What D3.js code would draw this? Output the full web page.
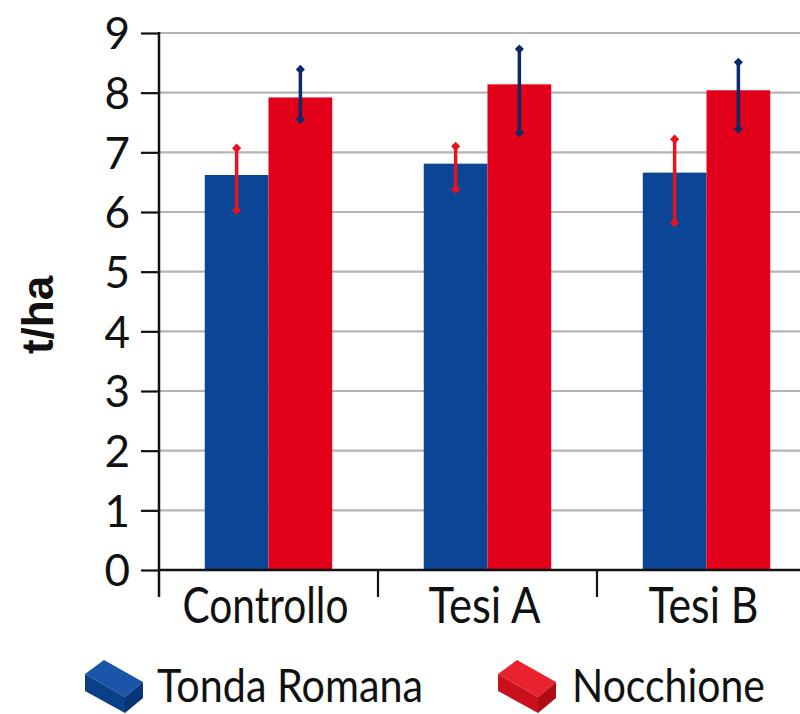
<!DOCTYPE html>
<html>
<head>
<meta charset="utf-8">
<script src="https://cdn.jsdelivr.net/npm/d3@7/dist/d3.min.js"></script>
<style>
  html, body { margin: 0; padding: 0; background: #fff; }
  svg { display: block; }
</style>
</head>
<body>
<svg id="chart" width="800" height="714"></svg>
<script>
// ---- data ----
const categories = ["Controllo", "Tesi A", "Tesi B"];
const seriesNames = ["Tonda Romana", "Nocchione"];
const tondaRomana = [6.62, 6.81, 6.66];
const nocchione = [7.92, 8.14, 8.04];
const tondaErrHigh = [7.07, 7.10, 7.22];
const tondaErrLow = [6.03, 6.38, 5.82];
const nocchioneErrHigh = [8.39, 8.73, 8.51];
const nocchioneErrLow = [7.55, 7.33, 7.39];
const yTicks = [0, 1, 2, 3, 4, 5, 6, 7, 8, 9];
const yTitle = "t/ha";

// ---- styles ----
const barColors = ["#0b4596", "#e2001a"];
const errColors = ["#e8131d", "#0d2a66"];
const labelFont = "Lato, 'Open Sans', sans-serif";
const catLabelWidths = [166, 112, 110];
const legendWidths = [266, 193];

const svg = d3.select("#chart");

const x0 = 159, yBase = 570, yTop = 33;
const band = 219;
const x = d3.scaleBand().domain(categories).range([x0, x0 + band * categories.length]).padding(0);
const xs = d3.scaleBand().domain(seriesNames).range([x.bandwidth() * 0.209, x.bandwidth() * 0.791]).padding(0);
const y = d3.scaleLinear().domain([0, 9]).range([yBase, yTop]);

// gridlines
svg.append("g").selectAll("line").data(yTicks.filter(d => d > 0)).join("line")
  .attr("x1", x0).attr("x2", 800)
  .attr("y1", d => y(d)).attr("y2", d => y(d))
  .attr("stroke", "#b4b4b4").attr("stroke-width", 2.2);

// table
const rows = categories.map((c, i) => ({
  cat: c,
  vals: [
    { s: seriesNames[0], v: tondaRomana[i], lo: tondaErrLow[i], hi: tondaErrHigh[i], k: 0 },
    { s: seriesNames[1], v: nocchione[i], lo: nocchioneErrLow[i], hi: nocchioneErrHigh[i], k: 1 }
  ]
}));

const groups = svg.append("g").selectAll("g").data(rows).join("g")
  .attr("transform", d => `translate(${x(d.cat)},0)`);

groups.selectAll("rect").data(d => d.vals).join("rect")
  .attr("x", d => xs(d.s))
  .attr("width", xs.bandwidth())
  .attr("y", d => y(d.v))
  .attr("height", d => y(0) - y(d.v))
  .attr("fill", d => barColors[d.k]);

// error bars
const eb = groups.selectAll("g.err").data(d => d.vals).join("g").attr("class", "err");
eb.append("line")
  .attr("x1", d => xs(d.s) + xs.bandwidth() / 2)
  .attr("x2", d => xs(d.s) + xs.bandwidth() / 2)
  .attr("y1", d => y(d.lo)).attr("y2", d => y(d.hi))
  .attr("stroke", d => errColors[d.k]).attr("stroke-width", 3.5);
const diamond = d3.symbol().type(d3.symbolSquare).size(42);
eb.selectAll("path").data(d => [{ d, v: d.lo }, { d, v: d.hi }]).join("path")
  .attr("d", diamond)
  .attr("transform", e => `translate(${xs(e.d.s) + xs.bandwidth() / 2},${y(e.v)}) rotate(45)`)
  .attr("fill", e => errColors[e.d.k]);

// y axis
const yAxis = d3.axisLeft(y).tickValues(yTicks).tickSize(18).tickPadding(11).tickFormat(d3.format("d"));
const gy = svg.append("g").attr("transform", `translate(${x0},0)`).call(yAxis);
gy.select(".domain").remove();
gy.selectAll(".tick line").attr("stroke", "#111").attr("stroke-width", 2.2);
gy.selectAll(".tick text").attr("font-family", labelFont).attr("font-size", 44)
  .attr("fill", "#111").attr("dy", "0.36em");
svg.append("line").attr("x1", x0).attr("x2", x0).attr("y1", yTop - 1).attr("y2", 597)
  .attr("stroke", "#111").attr("stroke-width", 2.5);

// x axis
svg.append("line").attr("x1", x0).attr("x2", 800).attr("y1", yBase).attr("y2", yBase)
  .attr("stroke", "#111").attr("stroke-width", 2.5);
svg.append("g").selectAll("line").data(categories.slice(1)).join("line")
  .attr("x1", d => x(d)).attr("x2", d => x(d))
  .attr("y1", yBase).attr("y2", 597)
  .attr("stroke", "#111").attr("stroke-width", 2.2);
svg.append("g").selectAll("text").data(categories).join("text")
  .attr("x", d => x(d) + x.bandwidth() / 2 - 3)
  .attr("y", 623)
  .attr("text-anchor", "middle")
  .attr("font-family", labelFont).attr("font-size", 50).attr("fill", "#111")
  .attr("textLength", (d, i) => catLabelWidths[i])
  .attr("lengthAdjust", "spacingAndGlyphs")
  .text(d => d);

// y title
svg.append("text")
  .attr("transform", "translate(53,315) rotate(-90)")
  .attr("text-anchor", "middle")
  .attr("font-family", "'Liberation Sans', Arial, sans-serif")
  .attr("font-weight", "bold").attr("font-size", 44).attr("fill", "#111")
  .text(yTitle);

// legend
const legendX = [85, 498];
const legendTextX = [157, 572];
const shades = [
  { top: "#1a55a8", left: "#0b3f87", front: "#083578" },
  { top: "#e8232f", left: "#c9101c", front: "#b00c17" }
];
const lg = svg.append("g").selectAll("g").data(seriesNames).join("g")
  .attr("transform", (d, i) => `translate(${legendX[i]},660)`);
// isometric box icon
lg.append("path").attr("d", "M0,14 L19,0 L58,22 L40,37 Z").attr("fill", (d, i) => shades[i].top);
lg.append("path").attr("d", "M0,14 L40,37 L40,53 L0,31 Z").attr("fill", (d, i) => shades[i].left);
lg.append("path").attr("d", "M40,37 L58,22 L58,38 L40,53 Z").attr("fill", (d, i) => shades[i].front);
lg.append("text")
  .attr("x", (d, i) => legendTextX[i] - legendX[i])
  .attr("y", 42)
  .attr("font-family", labelFont).attr("font-size", 47).attr("fill", "#111")
  .attr("textLength", (d, i) => legendWidths[i])
  .attr("lengthAdjust", "spacingAndGlyphs")
  .text(d => d);
</script>
</body>
</html>
